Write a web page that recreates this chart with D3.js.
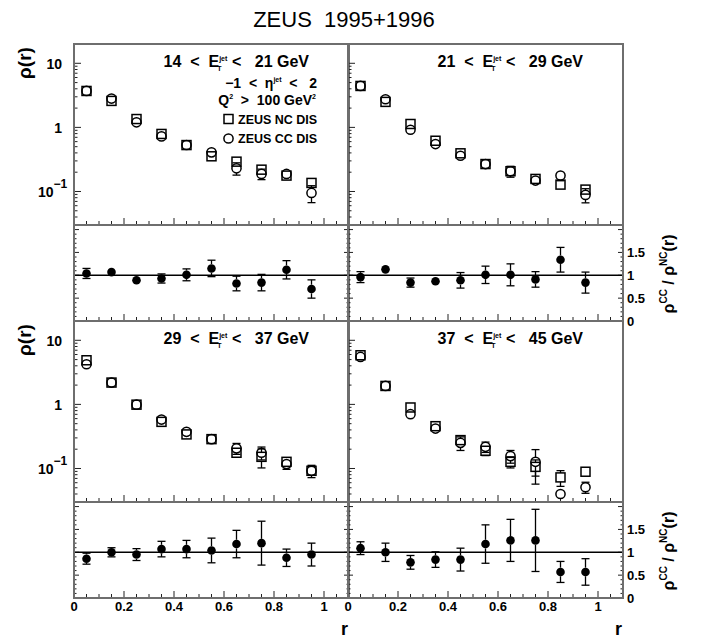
<!DOCTYPE html>
<html>
<head>
<meta charset="utf-8">
<script src="https://cdn.jsdelivr.net/npm/d3@7"></script>
<style>
body { margin: 0; background: #fff; }
svg text { font-family: "Liberation Sans", Arial, sans-serif; font-weight: bold; white-space: pre; fill: #000; }
</style>
</head>
<body>
<svg id="chart" width="706" height="640"></svg>
<script>
// r bins (bin centres)
const rBins = [0.05, 0.15, 0.25, 0.35, 0.45, 0.55, 0.65, 0.75, 0.85, 0.95];
const xTickLabels = ["0", "0.2", "0.4", "0.6", "0.8", "1"];
const ratioTickLabels = ["0", "0.5", "1", "1.5"];
const etBins = [["14", "21"], ["21", "29"], ["29", "37"], ["37", "45"]];

// 14 < Et < 21
const nc14 = [3.7, 2.59, 1.35, 0.79, 0.53, 0.354, 0.292, 0.219, 0.177, 0.136];
const ncErr14 = [0.15, 0.1, 0.06, 0.03, 0.02, 0.015, 0.015, 0.012, 0.01, 0.01];
const cc14 = [3.7, 2.82, 1.2, 0.724, 0.531, 0.408, 0.23, 0.188, 0.188, 0.095];
const ccErr14 = [0.2, 0.15, 0.08, 0.05, 0.04, 0.03, 0.05, 0.035, 0.02, 0.028];
const ratio14 = [1.04, 1.07, 0.89, 0.93, 1.01, 1.15, 0.82, 0.84, 1.12, 0.70];
const ratioErr14 = [0.11, 0.04, 0.05, 0.1, 0.13, 0.18, 0.16, 0.18, 0.2, 0.2];

// 21 < Et < 29
const nc21 = [4.43, 2.5, 1.13, 0.619, 0.394, 0.268, 0.207, 0.157, 0.128, 0.107];
const ncErr21 = [0.15, 0.1, 0.05, 0.03, 0.03, 0.015, 0.015, 0.012, 0.01, 0.012];
const cc21 = [4.43, 2.75, 0.918, 0.55, 0.361, 0.268, 0.207, 0.148, 0.177, 0.0885];
const ccErr21 = [0.2, 0.15, 0.06, 0.04, 0.05, 0.02, 0.04, 0.02, 0.03, 0.022];
const ratio21 = [0.96, 1.13, 0.84, 0.87, 0.89, 1.01, 1.01, 0.91, 1.34, 0.84];
const ratioErr21 = [0.12, 0.04, 0.1, 0.09, 0.17, 0.19, 0.24, 0.17, 0.27, 0.23];

// 29 < Et < 37
const nc29 = [4.88, 2.19, 0.99, 0.534, 0.34, 0.287, 0.176, 0.152, 0.127, 0.092];
const ncErr29 = [0.2, 0.08, 0.04, 0.025, 0.02, 0.02, 0.02, 0.05, 0.012, 0.012];
const cc29 = [4.23, 2.19, 0.99, 0.58, 0.373, 0.287, 0.206, 0.176, 0.117, 0.092];
const ccErr29 = [0.2, 0.1, 0.05, 0.03, 0.025, 0.025, 0.04, 0.04, 0.02, 0.02];
const ratio29 = [0.86, 1.0, 0.95, 1.07, 1.07, 1.04, 1.18, 1.2, 0.88, 0.95];
const ratioErr29 = [0.12, 0.1, 0.13, 0.17, 0.19, 0.27, 0.3, 0.48, 0.19, 0.25];

// 37 < Et < 45
const nc37 = [5.84, 1.94, 0.895, 0.457, 0.277, 0.189, 0.127, 0.106, 0.0726, 0.089];
const ncErr37 = [0.25, 0.08, 0.1, 0.05, 0.04, 0.03, 0.025, 0.03, 0.02, 0.01];
const cc37 = [5.5, 1.94, 0.703, 0.42, 0.251, 0.218, 0.156, 0.127, 0.04, 0.051];
const ccErr37 = [0.25, 0.1, 0.06, 0.06, 0.06, 0.04, 0.035, 0.07, 0.005, 0.01];
const ratio37 = [1.09, 1.0, 0.78, 0.84, 0.84, 1.18, 1.26, 1.26, 0.57, 0.57];
const ratioErr37 = [0.14, 0.2, 0.15, 0.17, 0.25, 0.42, 0.46, 0.68, 0.23, 0.29];

const panels = [
  {et: etBins[0], nc: nc14, ncErr: ncErr14, cc: cc14, ccErr: ccErr14, ratio: ratio14, ratioErr: ratioErr14},
  {et: etBins[1], nc: nc21, ncErr: ncErr21, cc: cc21, ccErr: ccErr21, ratio: ratio21, ratioErr: ratioErr21},
  {et: etBins[2], nc: nc29, ncErr: ncErr29, cc: cc29, ccErr: ccErr29, ratio: ratio29, ratioErr: ratioErr29},
  {et: etBins[3], nc: nc37, ncErr: ncErr37, cc: cc37, ccErr: ccErr37, ratio: ratio37, ratioErr: ratioErr37}
];

// layout
const colX = [74, 348], panelW = 275;
const rowY = [44, 321], rhoH = 181, ratioH = 96;
const frameCol = "#6e6e6e", tickCol = "#222";

const svg = d3.select("#chart");

svg.append("text")
  .attr("x", 344).attr("y", 27)
  .attr("text-anchor", "middle")
  .style("font-weight", "normal").style("font-size", "22px")
  .text("ZEUS  1995+1996");

function errBar(g, x, y, v, e, rad) {
  // draws an error bar but leaves the marker area empty
  const yc = y(v), yTop = y(v + e), yBot = v - e > 0 ? y(v - e) : y.range()[0];
  const cap = 4;
  if (yc - yTop > rad) {
    g.append("line").attr("x1", x).attr("x2", x).attr("y1", yc - rad).attr("y2", yTop);
    g.append("line").attr("x1", x - cap).attr("x2", x + cap).attr("y1", yTop).attr("y2", yTop);
  }
  if (yBot - yc > rad) {
    g.append("line").attr("x1", x).attr("x2", x).attr("y1", yc + rad).attr("y2", yBot);
    g.append("line").attr("x1", x - cap).attr("x2", x + cap).attr("y1", yBot).attr("y2", yBot);
  }
}

panels.forEach(function(p, i) {
  const col = i % 2, row = Math.floor(i / 2);
  const x0 = colX[col], y0 = rowY[row];
  const x = d3.scaleLinear().domain([0, 1.1]).range([x0, x0 + panelW]);
  const yRho = d3.scaleLog().domain([0.03, 20]).range([y0 + rhoH, y0]);
  const yRat = d3.scaleLinear().domain([0, 2.1]).range([y0 + rhoH + ratioH, y0 + rhoH]);

  const g = svg.append("g");
  const ticks = g.append("g").attr("stroke", tickCol).attr("stroke-width", 1);

  // x ticks (every 0.05, longer every 0.2) on the bottom of both pads
  d3.range(0, 23).forEach(function(k) {
    const v = k * 0.05, len = k % 4 === 0 ? 7 : 4;
    [y0 + rhoH, y0 + rhoH + ratioH].forEach(function(yb) {
      ticks.append("line").attr("x1", x(v)).attr("x2", x(v)).attr("y1", yb).attr("y2", yb - len);
    });
  });
  // log y ticks
  yRho.ticks().forEach(function(v) {
    const dec = Math.abs(Math.log10(v) - Math.round(Math.log10(v))) < 1e-6;
    ticks.append("line").attr("x1", x0).attr("x2", x0 + (dec ? 7 : 3.5))
      .attr("y1", yRho(v)).attr("y2", yRho(v));
  });
  // ratio y ticks
  d3.range(0, 21).forEach(function(k) {
    const v = k * 0.1, len = k % 5 === 0 ? 5 : 2.5;
    ticks.append("line").attr("x1", x0).attr("x2", x0 + len).attr("y1", yRat(v)).attr("y2", yRat(v));
    ticks.append("line").attr("x1", x0 + panelW).attr("x2", x0 + panelW - len).attr("y1", yRat(v)).attr("y2", yRat(v));
  });

  // line at ratio = 1
  g.append("line").attr("x1", x0).attr("x2", x0 + panelW)
    .attr("y1", yRat(1)).attr("y2", yRat(1))
    .attr("stroke", "#000").attr("stroke-width", 1.5);

  // error bars
  const eb = g.append("g").attr("stroke", "#000").attr("stroke-width", 1.3);
  rBins.forEach(function(r, j) {
    errBar(eb, x(r), yRho, p.nc[j], p.ncErr[j], 4.5);
    errBar(eb, x(r), yRho, p.cc[j], p.ccErr[j], 4.5);
    errBar(eb, x(r), yRat, p.ratio[j], p.ratioErr[j], 4.3);
  });

  // NC: open squares
  g.selectAll(null).data(rBins).enter().append("rect")
    .attr("x", function(d) { return x(d) - 4.5; })
    .attr("y", function(d, j) { return yRho(p.nc[j]) - 4.5; })
    .attr("width", 9).attr("height", 9)
    .attr("fill", "none").attr("stroke", "#000").attr("stroke-width", 1.5);
  // CC: open circles
  g.selectAll(null).data(rBins).enter().append("circle")
    .attr("cx", function(d) { return x(d); })
    .attr("cy", function(d, j) { return yRho(p.cc[j]); })
    .attr("r", 4.6)
    .attr("fill", "none").attr("stroke", "#000").attr("stroke-width", 1.5);
  // ratio: filled circles
  g.selectAll(null).data(rBins).enter().append("circle")
    .attr("cx", function(d) { return x(d); })
    .attr("cy", function(d, j) { return yRat(p.ratio[j]); })
    .attr("r", 4.3).attr("fill", "#000");

  // frames
  g.append("rect").attr("x", x0).attr("y", y0).attr("width", panelW).attr("height", rhoH)
    .attr("fill", "none").attr("stroke", frameCol).attr("stroke-width", 2);
  g.append("rect").attr("x", x0).attr("y", y0 + rhoH).attr("width", panelW).attr("height", ratioH)
    .attr("fill", "none").attr("stroke", frameCol).attr("stroke-width", 2);

  // Et bin title
  const t = g.append("text").attr("x", x0 + 235).attr("y", y0 + 23)
    .attr("text-anchor", "end").style("font-size", "16px");
  t.append("tspan").text(p.et[0] + "  <  E");
  t.append("tspan").attr("dy", -6).style("font-size", "7px").text("jet");
  t.append("tspan").attr("dx", -10).attr("dy", 10).style("font-size", "7px").text("T");
  t.append("tspan").attr("dx", 6).attr("dy", -4).text(" <   " + p.et[1] + " GeV");

  // left axis labels
  if (col === 0) {
    [[10, "10"], [1, "1"]].forEach(function(l) {
      g.append("text").attr("x", 62).attr("y", yRho(l[0]) + 6)
        .attr("text-anchor", "end").style("font-size", "14px").text(l[1]);
    });
    const tm = g.append("text").attr("x", 38).attr("y", yRho(0.1) + 6).style("font-size", "14px");
    tm.append("tspan").text("10");
    tm.append("tspan").attr("dy", -9).style("font-size", "12px").text("\u22121");

    g.append("text")
      .attr("transform", "translate(31," + (y0 + 19) + ") rotate(-90)")
      .attr("text-anchor", "middle").style("font-size", "19px").text("\u03c1(r)");
  } else {
    ratioTickLabels.forEach(function(l) {
      g.append("text").attr("x", x0 + panelW + 4).attr("y", yRat(+l) + 5)
        .style("font-size", "13px").text(l);
    });
    const rt = g.append("text")
      .attr("transform", "translate(674," + (y0 + rhoH + 49) + ") rotate(-90)")
      .attr("text-anchor", "middle").style("font-size", "16px");
    rt.append("tspan").text("\u03c1");
    rt.append("tspan").attr("dy", -7).style("font-size", "10px").text("CC");
    rt.append("tspan").attr("dy", 7).text(" / \u03c1");
    rt.append("tspan").attr("dy", -7).style("font-size", "10px").text("NC");
    rt.append("tspan").attr("dy", 7).text("(r)");
  }

  // x axis labels on the bottom row
  if (row === 1) {
    xTickLabels.forEach(function(l) {
      g.append("text").attr("x", x(+l)).attr("y", 611)
        .attr("text-anchor", "middle").style("font-size", "13px").text(l);
    });
    g.append("text").attr("x", x0 + panelW - 1).attr("y", 635)
      .attr("text-anchor", "end").style("font-size", "18px").text("r");
  }

  // legend in first pad
  if (i === 0) {
    const l1 = g.append("text").attr("x", 317).attr("y", 88).attr("text-anchor", "end").style("font-size", "14px");
    l1.append("tspan").text("\u22121  <  \u03b7");
    l1.append("tspan").attr("dy", -6).style("font-size", "7px").text("jet");
    l1.append("tspan").attr("dy", 6).text("  <   2");
    const l2 = g.append("text").attr("x", 316).attr("y", 105).attr("text-anchor", "end").style("font-size", "14px");
    l2.append("tspan").text("Q");
    l2.append("tspan").attr("dy", -6).style("font-size", "7px").text("2");
    l2.append("tspan").attr("dy", 6).text("  >  100 GeV");
    l2.append("tspan").attr("dy", -6).style("font-size", "7px").text("2");

    g.append("rect").attr("x", 224).attr("y", 114.5).attr("width", 9).attr("height", 9)
      .attr("fill", "none").attr("stroke", "#000").attr("stroke-width", 1.5);
    g.append("circle").attr("cx", 228.5).attr("cy", 138.5).attr("r", 4.6)
      .attr("fill", "none").attr("stroke", "#000").attr("stroke-width", 1.5);
    g.append("text").attr("x", 238).attr("y", 124).style("font-size", "12.5px").text("ZEUS NC DIS");
    g.append("text").attr("x", 238).attr("y", 143).style("font-size", "12.5px").text("ZEUS CC DIS");
  }
});
</script>
</body>
</html>
